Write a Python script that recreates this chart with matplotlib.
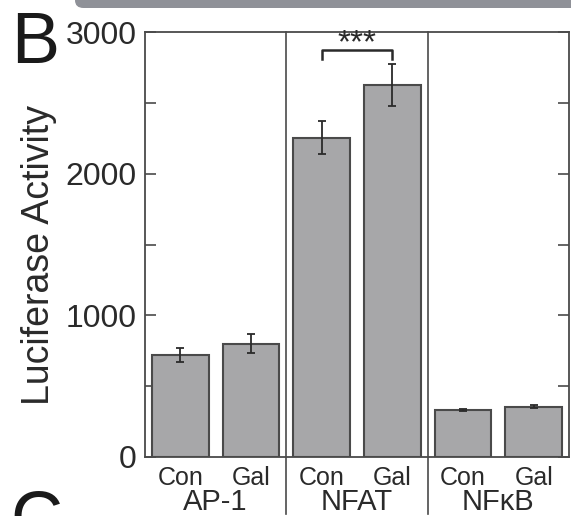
import matplotlib
matplotlib.use("Agg")
import matplotlib.pyplot as plt
from matplotlib.patches import FancyBboxPatch
import numpy as np

plt.rcParams['font.family'] = ['Liberation Sans', 'DejaVu Sans']

groups = ["AP-1", "NFAT", "NF\u03baB"]
conditions = ["Con", "Gal"]
values = [718, 800, 2255, 2625, 334, 355]
errors = [50, 67, 118, 146, 8, 10]
yticks_major = [0, 1000, 2000, 3000]
yticks_all = [0, 500, 1000, 1500, 2000, 2500, 3000]
sig_label = "***"

edge = "#4a4a4a"
bar_color = "#a7a7a9"
text_color = "#2a2a2a"

fig = plt.figure(figsize=(5.71, 5.16), dpi=100)
ax = fig.add_axes([145/571, 1-457/516, 424/571, 425/516])

x = np.arange(len(values))
ax.bar(x, values, width=0.8, color=bar_color, edgecolor=edge, linewidth=1.5, zorder=2)
ax.errorbar(x, values, yerr=errors, fmt='none', ecolor="#2a2a2a", elinewidth=1.3,
            capsize=3, capthick=1.3, zorder=3)

ax.set_xlim(-0.5, len(values) - 0.5)
ax.set_ylim(0, 3000)
ax.set_yticks(yticks_all)
ax.set_yticklabels([str(v) if v in yticks_major else "" for v in yticks_all])
ax.tick_params(axis='y', direction='in', length=8, width=1.2, color=edge,
               labelsize=23, labelcolor=text_color, pad=6, right=True)
ax.set_xticks([])
for s in ax.spines.values():
    s.set_color(edge)
    s.set_linewidth(1.3)

# group separators extending below the axes
trans = ax.get_xaxis_transform()
for sep in [1.5, 3.5]:
    ax.plot([sep, sep], [-0.135, 1], transform=trans, color=edge, lw=1.2,
            clip_on=False, zorder=4)

# condition labels
for i in range(len(values)):
    ax.text(i, -0.066, conditions[i % 2], transform=trans, ha='center', va='baseline',
            fontsize=18, color=text_color)
# group labels
for g, name in enumerate(groups):
    ax.text(2*g + 0.5, -0.125, name, transform=trans, ha='center', va='baseline',
            fontsize=21, color=text_color)

# significance bracket
ax.plot([2, 2, 3, 3], [2809, 2872, 2872, 2809], color="#2a2a2a", lw=1.8,
        clip_on=False, zorder=4)
ax.text(2.5, 2855, sig_label, ha='center', va='baseline', fontsize=24,
        color=text_color)

fig.text(39.5/571, 1-255/516, "Luciferase Activity", rotation=90, ha='center',
         va='center', fontsize=27, color=text_color)

# panel letters
fig.text(11/571, 1-63/516, "B", ha='left', va='baseline', fontsize=52, color="#1a1a1a")
fig.text(10/571, 1-541/516, "C", ha='left', va='baseline', fontsize=52, color="#1a1a1a")

# gray banner at top (part of previous panel)
banner = FancyBboxPatch((75/571, 1-8/516), 600/571, 20/516,
                        boxstyle="round,pad=0,rounding_size=0.015",
                        transform=fig.transFigure, facecolor="#8f9198",
                        edgecolor='none', clip_on=False)
fig.patches.append(banner)

fig.savefig("out.png", dpi=100)
